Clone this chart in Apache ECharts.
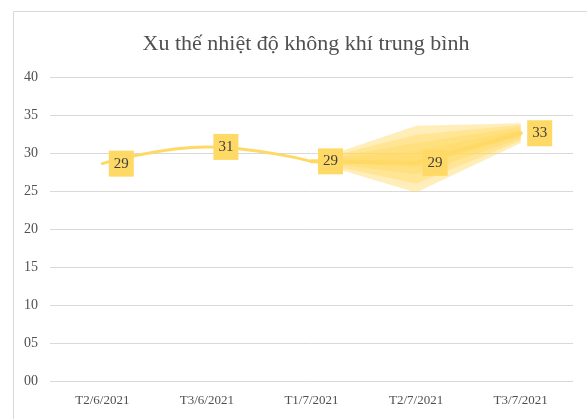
<!DOCTYPE html>
<html>
<head>
<meta charset="utf-8">
<script src="https://cdn.jsdelivr.net/npm/echarts@6/dist/echarts.min.js"></script>
<style>
  html, body { margin: 0; padding: 0; background: #fff; }
  #chart { width: 587px; height: 419px; }
</style>
</head>
<body>
<div id="chart"></div>
<script>
var categories = ['T2/6/2021', 'T3/6/2021', 'T1/7/2021', 'T2/7/2021', 'T3/7/2021'];
// measured temperatures (labels show them rounded)
var actualTemps = [28.6, 30.8, 28.9, '-', '-'];
var forecastTemps = ['-', '-', 28.9, 28.7, 32.6];
var yTicks = [0, 5, 10, 15, 20, 25, 30, 35, 40];

// confidence bands of the forecast, outer to inner
var bandLow = [
    ['-', '-', 28.9, 24.8, 31.3],
    ['-', '-', 28.9, 26.0, 31.6],
    ['-', '-', 28.9, 27.2, 31.9],
    ['-', '-', 28.9, 28.2, 32.2]
];
var bandHigh = [
    ['-', '-', 28.9, 33.6, 33.9],
    ['-', '-', 28.9, 32.4, 33.7],
    ['-', '-', 28.9, 31.3, 33.4],
    ['-', '-', 28.9, 30.3, 33.0]
];

var gold = '#FFD966';
var serif = '"Liberation Serif", "Times New Roman", serif';

var labelStyle = {
    show: true,
    position: 'right',
    distance: 6,
    formatter: function (p) { return String(Math.round(p.value)); },
    backgroundColor: gold,
    color: '#404040',
    fontFamily: serif,
    fontSize: 15,
    padding: [6, 5, 5, 5]
};

var series = [];
bandLow.forEach(function (low, k) {
    var diff = low.map(function (v, i) {
        return v === '-' ? '-' : +(bandHigh[k][i] - v).toFixed(2);
    });
    series.push({
        type: 'line', stack: 'band' + k, data: low,
        symbol: 'none', lineStyle: { opacity: 0 }, silent: true, z: 1
    });
    series.push({
        type: 'line', stack: 'band' + k, data: diff,
        symbol: 'none', lineStyle: { opacity: 0 }, silent: true, z: 1,
        areaStyle: { color: gold, opacity: 0.45 }
    });
});

series.push({
    name: 'actual',
    type: 'line',
    data: actualTemps,
    smooth: 0.45,
    symbol: 'circle',
    symbolSize: 1,
    showSymbol: true,
    itemStyle: { color: gold },
    lineStyle: { color: gold, width: 3, cap: 'round' },
    label: labelStyle,
    z: 3
});

series.push({
    name: 'forecast',
    type: 'line',
    data: forecastTemps.map(function (v, i) {
        return i === 2 ? { value: v, label: { show: false } } : v;
    }),
    symbol: 'circle',
    symbolSize: 1,
    showSymbol: true,
    itemStyle: { color: gold },
    lineStyle: { color: gold, width: 4, cap: 'round' },
    label: labelStyle,
    z: 3
});

var chart = echarts.init(document.getElementById('chart'));
chart.setOption({
    animation: false,
    backgroundColor: '#fff',
    title: {
        text: 'Xu thế nhiệt độ không khí trung bình',
        left: 301,
        textAlign: 'center',
        top: 28,
        textStyle: { fontFamily: serif, fontSize: 22, fontWeight: 'normal', color: '#505050' }
    },
    graphic: [{
        type: 'rect',
        shape: { x: 13.5, y: 11.5, width: 700, height: 600 },
        style: { fill: 'none', stroke: '#d9d9d9', lineWidth: 1 },
        silent: true
    }],
    grid: { left: 50, right: 14, top: 77, bottom: 38 },
    xAxis: {
        type: 'category',
        data: categories,
        boundaryGap: true,
        axisLine: { show: false },
        axisTick: { show: false },
        axisLabel: { color: '#505050', fontFamily: serif, fontSize: 13, margin: 13 }
    },
    yAxis: {
        type: 'value',
        min: yTicks[0],
        max: yTicks[yTicks.length - 1],
        interval: 5,
        axisLine: { show: false },
        axisTick: { show: false },
        splitLine: { lineStyle: { color: '#d9d9d9', width: 1 } },
        axisLabel: {
            color: '#505050', fontFamily: serif, fontSize: 14, margin: 12,
            formatter: function (v) { return (v < 10 ? '0' : '') + v; }
        }
    },
    series: series
});
</script>
</body>
</html>
